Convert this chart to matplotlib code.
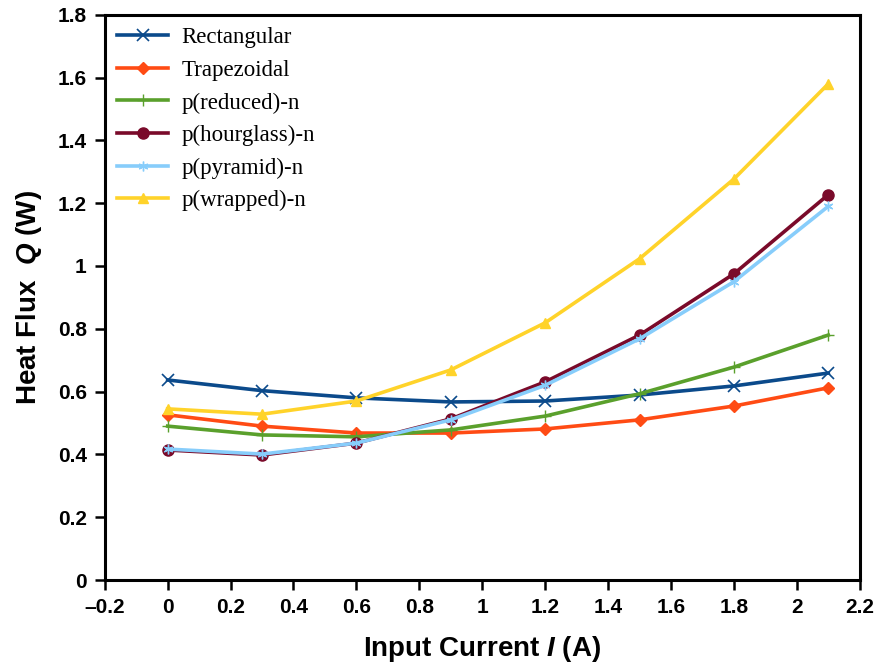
import matplotlib
matplotlib.use('Agg')
import matplotlib.pyplot as plt
from matplotlib import font_manager
from matplotlib.ticker import FuncFormatter

# 数据
current = [0, 0.3, 0.6, 0.9, 1.2, 1.5, 1.8, 2.1]
rectangular = [0.637, 0.603, 0.58, 0.567, 0.57, 0.589, 0.618, 0.659]
trapezoidal = [0.526, 0.49, 0.468, 0.468, 0.481, 0.51, 0.554, 0.612]
reduced = [0.49, 0.462, 0.456, 0.478, 0.522, 0.593, 0.678, 0.78]
hourglass = [0.414, 0.398, 0.436, 0.513, 0.631, 0.78, 0.975, 1.227]
pyramid = [0.417, 0.401, 0.436, 0.51, 0.62, 0.768, 0.95, 1.19]
wrapped = [0.545, 0.528, 0.57, 0.669, 0.819, 1.023, 1.277, 1.58]

names = [f.name for f in font_manager.fontManager.ttflist]
axis_font = 'Liberation Sans Narrow' if 'Liberation Sans Narrow' in names else 'Liberation Sans'

plt.rcParams['mathtext.fontset'] = 'custom'
plt.rcParams['mathtext.it'] = axis_font + ':italic:bold'
plt.rcParams['mathtext.rm'] = axis_font + ':bold'

fig = plt.figure(figsize=(8.8, 6.69), dpi=100)
ax = fig.add_axes([0.119, 0.133, 0.858, 0.845])

series = [
    ('Rectangular', rectangular, '#0b4a8b', 'x', 8, 1.2),
    ('Trapezoidal', trapezoidal, '#ff4b14', 'D', 6, 1),
    ('p(reduced)-n', reduced, '#5aa02c', '+', 9, 1),
    ('p(hourglass)-n', hourglass, '#7a0a2a', 'o', 8, 1),
    ('p(pyramid)-n', pyramid, '#87cdfb', (6, 2, 0), 7, 1),
    ('p(wrapped)-n', wrapped, '#ffd32a', '^', 7, 1),
]
for label, vals, color, marker, ms, mew in series:
    ax.plot(current, vals, color=color, marker=marker, markersize=ms,
            markeredgewidth=mew, linewidth=2.6, label=label)

ax.set_xlim(-0.2, 2.2)
ax.set_ylim(0, 1.8)
ax.set_xticks([-0.2 + 0.2 * i for i in range(13)])
ax.set_yticks([0.2 * i for i in range(10)])

fmt = FuncFormatter(lambda v, p: ('%.1f' % v).rstrip('0').rstrip('.').replace('-', '\u2013') if abs(v) > 1e-9 else '0')
ax.xaxis.set_major_formatter(fmt)
ax.yaxis.set_major_formatter(fmt)

for s in ax.spines.values():
    s.set_linewidth(2.2)
ax.tick_params(direction='out', length=7, width=1.8, labelsize=15, pad=6)
for t in ax.get_xticklabels() + ax.get_yticklabels():
    t.set_fontfamily(axis_font)
    t.set_fontweight('bold')

ax.set_xlabel('Input Current $I$ (A)', fontsize=20, fontweight='bold', family=axis_font, labelpad=12)
ax.set_ylabel('Heat Flux  $Q$ (W)', fontsize=20, fontweight='bold', family=axis_font, labelpad=10)

ax.legend(loc='upper left', frameon=False, prop={'family': 'Liberation Serif', 'size': 16.5},
          handlelength=2.2, handletextpad=0.6, labelspacing=0.5, borderaxespad=0.15,
          borderpad=0.4)

fig.savefig('out.png', dpi=100)
